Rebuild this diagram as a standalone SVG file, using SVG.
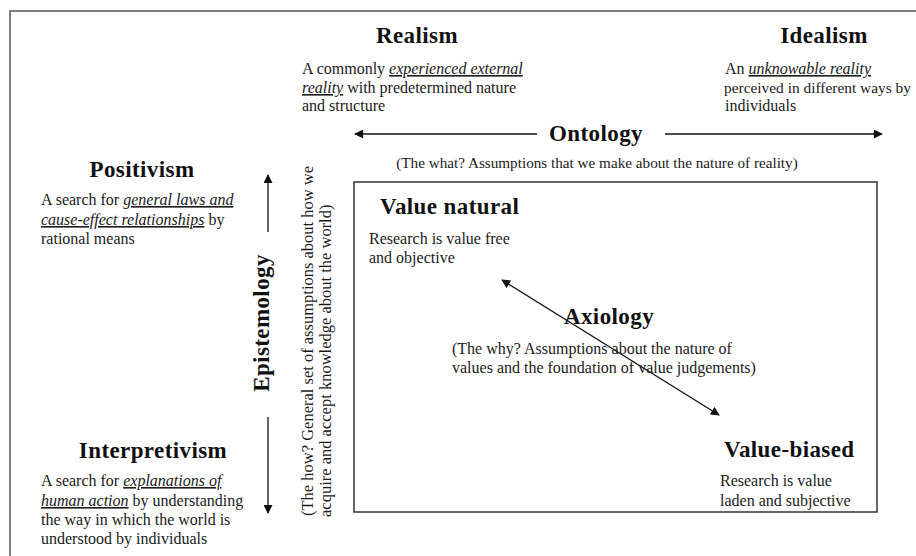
<svg xmlns="http://www.w3.org/2000/svg" width="916" height="556" viewBox="0 0 916 556">
  <style>
    .frame { fill: none; stroke: #555; stroke-width: 1.5; }
    .box { fill: none; stroke: #333; stroke-width: 1.5; }
    .head { font-family: "Liberation Serif", "Times New Roman", serif; font-weight: bold; font-size: 23px; letter-spacing: 0.4px; fill: #111; }
    .body { font-family: "Liberation Serif", "Times New Roman", serif; font-size: 16px; fill: #1a1a1a; }
    .sub { font-size: 15.2px; }
    .vert { font-size: 16.5px; }
    .tight { font-size: 15.4px; }
    .em { font-style: italic; text-decoration: underline; }
    .conn { stroke: #111; stroke-width: 1.3; fill: none; }
  </style>
  <defs>
    <marker id="arrow" viewBox="0 0 10 10" refX="9" refY="5" markerWidth="10" markerHeight="9" markerUnits="userSpaceOnUse" orient="auto-start-reverse">
      <path d="M0,0 L10,5 L0,10 z" fill="#111"/>
    </marker>
  </defs>

  <rect width="916" height="556" fill="#fff"/>
  <!-- outer frame, running off the right and bottom edges -->
  <rect class="frame" x="10" y="11" width="920" height="560"/>

  <!-- axiology quadrant box -->
  <rect id="axiology-box" class="box" x="354" y="182" width="523" height="330"/>

  <g id="connectors">
    <line class="conn" x1="537" y1="134" x2="355" y2="134" marker-end="url(#arrow)"/>
    <line class="conn" x1="665" y1="134" x2="882" y2="134" marker-end="url(#arrow)"/>
    <line class="conn" x1="268" y1="232" x2="268" y2="175" marker-end="url(#arrow)"/>
    <line class="conn" x1="268" y1="417" x2="268" y2="513" marker-end="url(#arrow)"/>
    <line class="conn" x1="502" y1="280" x2="719" y2="415" marker-start="url(#arrow)" marker-end="url(#arrow)"/>
  </g>

  <g id="realism">
    <text class="head" x="417" y="43" text-anchor="middle">Realism</text>
    <text class="body" x="302" y="74">A commonly <tspan class="em">experienced external</tspan></text>
    <text class="body" x="302" y="93"><tspan class="em">reality</tspan> with predetermined nature</text>
    <text class="body" x="302" y="111">and structure</text>
  </g>

  <g id="idealism">
    <text class="head" x="824" y="43" text-anchor="middle">Idealism</text>
    <text class="body" x="725" y="74">An <tspan class="em">unknowable reality</tspan></text>
    <text class="body tight" x="724" y="93">perceived in different ways by</text>
    <text class="body" x="725" y="111">individuals</text>
  </g>

  <g id="ontology">
    <text class="head" x="596" y="141" text-anchor="middle">Ontology</text>
    <text class="body sub" x="597" y="168" text-anchor="middle">(The what? Assumptions that we make about the nature of reality)</text>
  </g>

  <g id="positivism">
    <text class="head" x="142" y="177" text-anchor="middle">Positivism</text>
    <text class="body" x="41" y="205">A search for <tspan class="em">general laws and</tspan></text>
    <text class="body" x="41" y="225"><tspan class="em">cause-effect relationships</tspan> by</text>
    <text class="body" x="41" y="244">rational means</text>
  </g>

  <g id="epistemology">
    <text class="head" transform="translate(269,323) rotate(-90)" text-anchor="middle">Epistemology</text>
    <text class="body vert" transform="translate(313,516) rotate(-90)">(The how?  General set of assumptions about how we</text>
    <text class="body vert" transform="translate(331,517) rotate(-90)">acquire and accept knowledge about the world)</text>
  </g>

  <g id="interpretivism">
    <text class="head" x="153" y="458" text-anchor="middle">Interpretivism</text>
    <text class="body" x="41" y="486">A search for <tspan class="em">explanations of</tspan></text>
    <text class="body" x="41" y="506"><tspan class="em">human action</tspan> by understanding</text>
    <text class="body" x="41" y="525">the way in which the world is</text>
    <text class="body" x="41" y="544">understood by individuals</text>
  </g>

  <g id="value-natural">
    <text class="head" x="380" y="214">Value natural</text>
    <text class="body" x="369" y="244">Research is value free</text>
    <text class="body" x="369" y="263">and objective</text>
  </g>

  <g id="axiology">
    <text class="head" x="609" y="324" text-anchor="middle">Axiology</text>
    <text class="body" x="452" y="354">(The why? Assumptions about the nature of</text>
    <text class="body" x="452" y="373">values and the foundation of value judgements)</text>
  </g>

  <g id="value-biased">
    <text class="head" x="724" y="457">Value-biased</text>
    <text class="body" x="720" y="486">Research is value</text>
    <text class="body" x="720" y="506">laden and subjective</text>
  </g>
</svg>
